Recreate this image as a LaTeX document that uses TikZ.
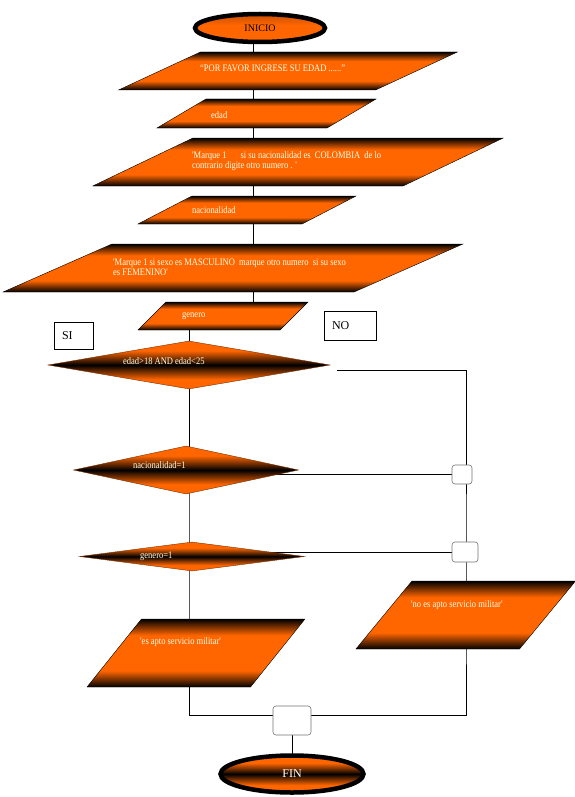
\documentclass[tikz,border=0pt]{standalone}
\usepackage{fontspec}
\setmainfont{Liberation Serif}
\newfontfamily\estrecha{Liberation Serif}[FakeStretch=0.85]
\usepackage{tikz}
\usetikzlibrary{shapes.geometric,backgrounds,calc}
\definecolor{naranja}{HTML}{FF6600}
\definecolor{naranjaosc}{HTML}{C84E00}
\definecolor{crema}{HTML}{FFFFE8}
\definecolor{borde}{HTML}{7A3000}
\pgfdeclareverticalshading{barra}{100bp}{color(0bp)=(black); color(25bp)=(black); color(37bp)=(naranja); color(63bp)=(naranja); color(75bp)=(black); color(100bp)=(black)}
\pgfdeclareverticalshading{banda}{100bp}{color(0bp)=(naranja); color(25bp)=(naranja); color(35bp)=(naranja); color(50bp)=(black); color(65bp)=(naranja); color(75bp)=(naranja); color(100bp)=(naranja)}
\pgfdeclareverticalshading{tapa}{100bp}{color(0bp)=(naranja); color(25bp)=(naranja); color(55bp)=(naranja); color(75bp)=(naranjaosc); color(100bp)=(naranjaosc)}

\begin{document}
\begin{tikzpicture}[x=1pt,y=-1pt,
  terminal/.style={ellipse,draw=black,line width=4.5pt,inner sep=0pt,shade},
  entrada/.style={trapezium,shade,shading=barra,draw=black,line width=0.4pt},
  decision/.style={diamond,shade,shading=banda,draw=borde,line width=0.4pt,inner sep=0pt},
  union/.style={rectangle,rounded corners=3pt,draw=black!55,fill=white,line width=0.6pt,inner sep=0pt},
  marca/.style={rectangle,draw=black,line width=0.6pt,fill=white,align=left,inner xsep=8pt,font=\fontsize{12}{12}\selectfont},
  texto/.style={anchor=west,inner sep=0pt,align=left,text=crema,font=\estrecha\fontsize{10}{10.5}\selectfont},
  flujo/.style={draw=black,line width=0.8pt}]
\useasboundingbox (0,0) rectangle (575,797);
% inicio y entradas
\node[terminal,shading=tapa,minimum width=130pt,minimum height=28pt] (inicio) at (260,28) {INICIO};
\node[entrada,trapezium left angle=24.9,trapezium right angle=155.1,inner xsep=87.5pt,inner ysep=19pt] (p1) at (288,71) {};
\node[texto] (t1) at (200,68.5) {“POR FAVOR INGRESE SU EDAD ......”};
\node[entrada,trapezium left angle=30.6,trapezium right angle=149.4,inner xsep=60.5pt,inner ysep=14.5pt] (p2) at (266.5,113.5) {};
\node[texto] (t2) at (211,115) {edad};
\node[entrada,trapezium left angle=25.6,trapezium right angle=154.4,inner xsep=105pt,inner ysep=24pt] (p3) at (298,162) {};
\node[texto] (t3) at (192,161) {'Marque 1\hspace{14pt}si su nacionalidad es\ \ COLOMBIA\ \ de lo\\contrario digite otro numero . '};
\node[entrada,trapezium left angle=27.4,trapezium right angle=152.6,inner xsep=55pt,inner ysep=14pt] (p4) at (247,210) {};
\node[texto] (t4) at (192,210) {nacionalidad};
\node[entrada,trapezium left angle=23.8,trapezium right angle=156.2,inner xsep=121pt,inner ysep=24pt] (p5) at (233,268) {};
\node[texto] (t5) at (113,267) {'Marque 1 si sexo es MASCULINO\ \ marque otro numero\ \ si su sexo\\es FEMENINO'};
\node[entrada,trapezium left angle=45,trapezium right angle=135,inner xsep=57pt,inner ysep=14pt] (p6) at (223,316) {};
\node[texto] (t6) at (182,316.5) {genero};
\node[marca,text width=23pt,minimum height=27pt] (si) at (73.5,335.5) {SI};
\node[marca,text width=36pt,minimum height=29pt] (no) at (350,325.5) {NO};
% decisiones
\node[decision,minimum width=282pt,minimum height=48pt] (d1) at (189,365) {};
\node[texto] (t7) at (123,361) {edad>18 AND edad<25};
\node[decision,minimum width=225pt,minimum height=48pt] (d2) at (186,470) {};
\node[texto] (t8) at (133,465) {nacionalidad=1};
\node[decision,minimum width=225pt,minimum height=29pt] (d3) at (192,556.5) {};
\node[texto] (t9) at (140,556.5) {genero=1};
% salidas
\node[entrada,trapezium left angle=51.3,trapezium right angle=128.7,inner xsep=54.5pt,inner ysep=34pt] (p7) at (196,653) {};
\node[texto] (t10) at (140,642) {'es apto servicio militar'};
\node[entrada,trapezium left angle=50.5,trapezium right angle=129.5,inner xsep=53.75pt,inner ysep=34pt] (p8) at (465.75,615) {};
\node[texto] (t11) at (411,605) {'no es apto servicio militar'};
\node[union,minimum width=20pt,minimum height=19pt] (b1) at (462,474.5) {};
\node[union,minimum width=26pt,minimum height=20pt] (b2) at (465,552) {};
\node[union,minimum width=38pt,minimum height=29pt] (b3) at (292,720.5) {};
\node[terminal,shading=banda,minimum width=143pt,minimum height=37pt,text=white,font=\fontsize{12}{12}\selectfont] (fin) at (292,774) {FIN};
% lineas
\begin{scope}[on background layer]
\coordinate (eje) at ($(inicio.center)+(-7,0)$);
\coordinate (salida) at (337,370);
\coordinate (codo) at (466,370);
\draw[flujo] (eje) -- (eje |- p6.center);
\draw[flujo] (p6.center -| d1.center) -- (p7.center -| d1.center) |- ($(b3.west)+(0,-5.5)$);
\draw[flujo] (salida) -- (codo) -- (codo |- p8.center) |- ($(b3.east)+(0,-5.5)$);
\draw[flujo] (b1.west -| d2.center) -- (b1.west);
\draw[flujo] (b2.west -| d3.center) -- (b2.west);
\draw[flujo] (b3.center) -- (fin.center);
\end{scope}
\end{tikzpicture}
\end{document}
